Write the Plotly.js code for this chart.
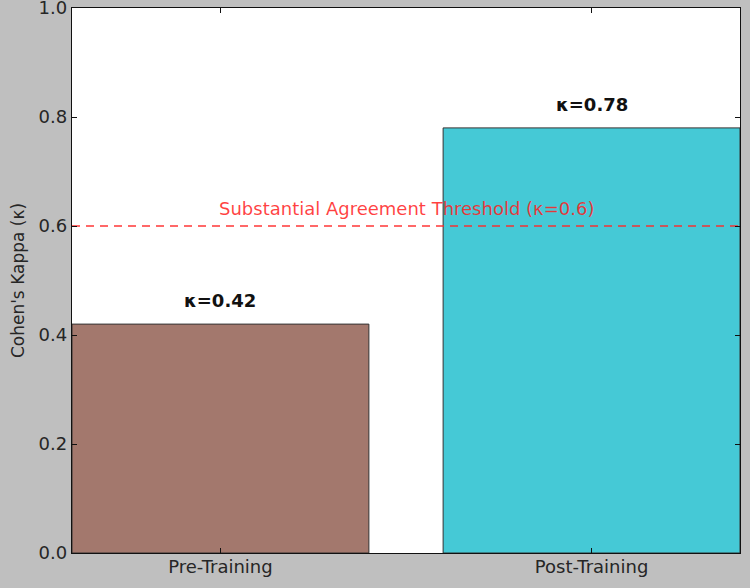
<!DOCTYPE html>
<html><head><meta charset="utf-8">
<script src="https://cdn.plot.ly/plotly-3.0.1.min.js"></script>
<style>body{margin:0;background:#bfbfbf;}#chart{width:750px;height:588px;}</style>
</head><body><div id="chart"></div>
<script>
const categories = ["Pre-Training", "Post-Training"];
const kappaValues = [0.42, 0.78];
const barColors = ["#a3786d", "#45c9d6"];
const threshold = 0.6;
const thresholdLabel = "Substantial Agreement Threshold (κ=0.6)";
const yTicks = [0.0, 0.2, 0.4, 0.6, 0.8, 1.0];

const font = "DejaVu Sans, sans-serif";
const data = [{
  type: "bar",
  x: [0, 1],
  y: kappaValues,
  width: 0.8,
  marker: {color: barColors, line: {color: "#333333", width: 1}},
  hoverinfo: "skip"
}, {
  type: "scatter",
  mode: "lines",
  x: [-0.4, 1.4],
  y: [threshold, threshold],
  line: {color: "rgba(255,40,40,0.7)", width: 2, dash: "8px,6px"},
  hoverinfo: "skip"
}];

const annotations = kappaValues.map((v, i) => ({
  x: i, y: v + 0.02, xref: "x", yref: "y",
  text: "<b>κ=" + v.toFixed(2) + "</b>",
  showarrow: false, yanchor: "bottom",
  font: {family: font, size: 18, color: "#111111"}
}));
annotations.push({
  x: 0.5, y: threshold + 0.01, xref: "x", yref: "y",
  text: thresholdLabel, showarrow: false, yanchor: "bottom",
  font: {family: font, size: 18, color: "rgba(255,30,30,0.85)"}
});

const layout = {
  width: 750, height: 588,
  paper_bgcolor: "#bfbfbf", plot_bgcolor: "#ffffff",
  margin: {l: 72, r: 10, t: 8, b: 35},
  showlegend: false,
  font: {family: font, size: 18, color: "#262626"},
  xaxis: {
    range: [-0.4, 1.4], tickvals: [0, 1], ticktext: categories,
    showgrid: false, zeroline: false, showline: true, linecolor: "#111", linewidth: 1.2,
    mirror: "ticks", ticks: "inside", ticklen: 5, tickcolor: "#111",
    ticklabelstandoff: -3,
    tickfont: {family: font, size: 18, color: "#262626"}
  },
  yaxis: {
    range: [0, 1.0], tickvals: yTicks, ticktext: yTicks.map(v => v.toFixed(1)),
    ticklabeloverflow: "allow",
    showgrid: false, zeroline: false, showline: true, linecolor: "#111", linewidth: 1.2,
    mirror: "ticks", ticks: "inside", ticklen: 5, tickcolor: "#111",
    tickfont: {family: font, size: 18, color: "#262626"},
    title: {text: "Cohen's Kappa (κ)", font: {family: font, size: 17, color: "#262626"}, standoff: 9}
  },
  annotations: annotations
};
Plotly.newPlot("chart", data, layout, {displayModeBar: false, staticPlot: true});
</script></body></html>
